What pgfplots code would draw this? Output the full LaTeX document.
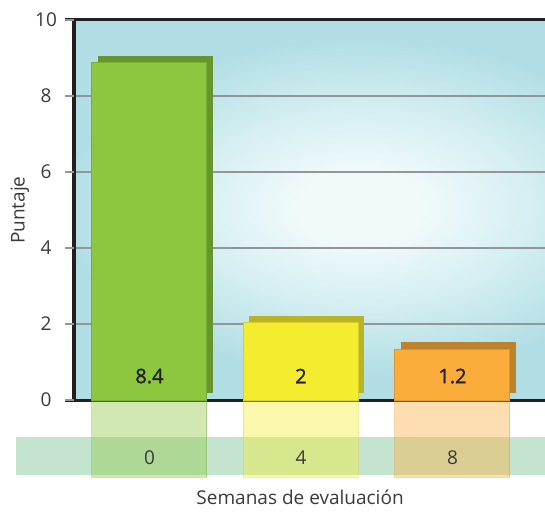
\documentclass[border=0pt]{standalone}
\usepackage{pgfplots}
\pgfplotsset{compat=1.18}
\usepackage{fontspec}
\setmainfont{Open Sans}
\newfontfamily\semib[FakeBold=1.3]{Open Sans}
\definecolor{bgE}{HTML}{B0DEE4}
\definecolor{bgM}{HTML}{D6EFF2}
\definecolor{bgC}{HTML}{F1FAFB}
\definecolor{gridgray}{HTML}{939598}
\definecolor{axblack}{HTML}{231F20}
\definecolor{labcol}{HTML}{3A3A3A}
\definecolor{gF}{HTML}{8DC63F}
\definecolor{gB}{HTML}{66962B}
\definecolor{gL}{HTML}{78AE34}
\definecolor{yF}{HTML}{F4EC2E}
\definecolor{yB}{HTML}{B9B424}
\definecolor{yL}{HTML}{D9CF2A}
\definecolor{oF}{HTML}{FBAD3B}
\definecolor{oB}{HTML}{BC822C}
\definecolor{oL}{HTML}{E0952F}
\definecolor{band}{HTML}{C5E4CF}
\pgfdeclareradialshading{bgshade}{\pgfpoint{0bp}{0bp}}{color(0bp)=(bgC); color(5bp)=(bgC); color(14bp)=(bgM); color(25bp)=(bgE); color(50bp)=(bgE)}
\begin{document}
\begin{tikzpicture}
\useasboundingbox (-74pt,-37pt) rectangle (471pt,477pt);
\begin{axis}[
  at={(0,0)}, anchor=south west,
  scale only axis, width=471pt, height=457pt,
  xmin=-0.498, xmax=2.611, ymin=-2.026, ymax=10,
  clip=false, axis on top,
  axis line style={draw=none},
  ytick={0,2,4,6,8,10}, ytick pos=left, ytick align=outside, major tick length=9pt,
  ytick style={draw=gridgray, line width=2pt},
  yticklabel style={anchor=center, xshift=-19pt},
  xtick={0,1,2}, xticklabels={0,4,8}, xtick style={draw=none},
  xticklabel style={anchor=center, yshift=19pt},
  ticklabel style={font=\fontsize{19}{19}\selectfont, text=labcol},
  /pgf/number format/assume math mode=true,
  xlabel={Semanas de evaluación}, ylabel={Puntaje},
  xlabel style={at={(axis description cs:0.48,-0.044)}, anchor=center, font=\fontsize{19}{19}\selectfont, text=labcol},
  ylabel style={at={(axis description cs:-0.115,0.584)}, anchor=center, font=\fontsize{19}{19}\selectfont, text=labcol},
]
% background
\fill[bgE] (axis cs:-0.498,0) rectangle (axis cs:2.611,10);
\begin{scope}
\clip (axis cs:-0.498,0) rectangle (axis cs:2.611,10);
\fill[shading=bgshade] (axis cs:-0.591,0.61) rectangle (axis cs:3.369,9.55);
\end{scope}
% grid
\foreach \yy in {2,4,6,8} {
  \edef\temp{\noexpand\draw[gridgray, line width=2pt] (axis cs:-0.498,\yy) -- (axis cs:2.611,\yy);}
  \temp
}
% axis lines
\draw[axblack, line width=3pt] (axis cs:-0.557,10) -- (axis cs:2.611,10);
\draw[axblack, line width=3pt] (axis cs:-0.557,0) -- (axis cs:2.611,0);
\draw[axblack, line width=3pt] (axis cs:-0.498,10) -- (axis cs:-0.498,0);
% band
\fill[band] (axis cs:-0.881,-0.97) rectangle (axis cs:2.611,-1.97);
% back bars
\addplot[ybar, bar width=115pt, bar shift=6pt, yshift=7pt, fill=gB, draw=none] coordinates {(0,8.87)};
\addplot[ybar, bar width=115pt, bar shift=6pt, yshift=7pt, fill=yB, draw=none] coordinates {(1,2.03)};
\addplot[ybar, bar width=115pt, bar shift=6pt, yshift=7pt, fill=oB, draw=none] coordinates {(2,1.34)};
% front bars
\addplot[ybar, bar width=115pt, bar shift=0pt, fill=gF, draw=gL, line width=1pt] coordinates {(0,8.87)};
\addplot[ybar, bar width=115pt, bar shift=0pt, fill=yF, draw=yL, line width=1pt] coordinates {(1,2.03)};
\addplot[ybar, bar width=115pt, bar shift=0pt, fill=oF, draw=oL, line width=1pt] coordinates {(2,1.34)};
% reflections
\addplot[ybar, bar width=115pt, bar shift=0pt, fill=gF, draw=gL, line width=1pt, opacity=0.4] coordinates {(0,-2.03)};
\addplot[ybar, bar width=115pt, bar shift=0pt, fill=yF, draw=yL, line width=1pt, opacity=0.4] coordinates {(1,-2.03)};
\addplot[ybar, bar width=115pt, bar shift=0pt, fill=oF, draw=oL, line width=1pt, opacity=0.4] coordinates {(2,-2.03)};
% value labels
\addplot[draw=none, mark=none, nodes near coords, point meta=explicit symbolic,
  nodes near coords align={center},
  every node near coord/.append style={font=\semib\fontsize{20}{20}\selectfont, text=axblack, anchor=center}]
  coordinates {(0,0.63) [8.4] (1,0.63) [2] (2,0.63) [1.2]};
\end{axis}
\end{tikzpicture}
\end{document}
